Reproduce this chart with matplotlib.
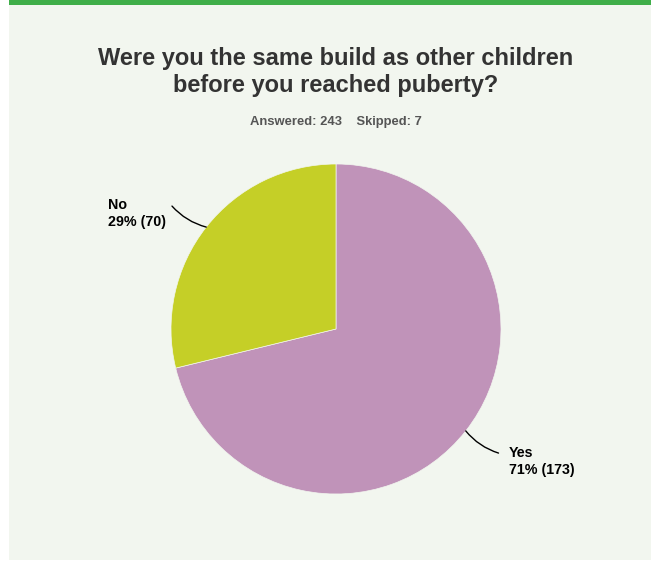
import matplotlib
matplotlib.use("Agg")
import matplotlib.pyplot as plt
import numpy as np

plt.rcParams['font.family'] = ['Liberation Sans', 'DejaVu Sans']

labels = ["Yes", "No"]
counts = [173, 70]
percents = ["71%", "29%"]
colors = ["#C093B9", "#C5CF27"]
title = "Were you the same build as other children\nbefore you reached puberty?"
answered = 243
skipped = 7

W, H = 651, 565
fig = plt.figure(figsize=(W/100, H/100), dpi=100)
fig.patch.set_facecolor("white")

# background panel and green bar
fig.patches.append(plt.Rectangle((9/W, 5/H), 1, (H-5-5)/H, transform=fig.transFigure,
                                 facecolor="#F2F6EF", edgecolor="none", zorder=-2))
fig.patches.append(plt.Rectangle((9/W, (H-5)/H), 1, 5/H, transform=fig.transFigure,
                                 facecolor="#3FAE49", edgecolor="none", zorder=-2))

fig.text(336/W, 1-72/H, title, ha="center", va="center", fontsize=17,
         fontweight="bold", color="#333333", linespacing=1.27)
fig.text(336/W, 1-121.5/H, f"Answered: {answered}    Skipped: {skipped}", ha="center",
         va="center", fontsize=9.4, fontweight="bold", color="#555555")

cx, cy, r = 336, 329, 165
ax = fig.add_axes([(cx-r)/W, (H-cy-r)/H, 2*r/W, 2*r/H])
ax.set_zorder(3)
ax.set_facecolor("none")
wedges, _ = ax.pie(counts, colors=colors, startangle=90, counterclock=False,
                   radius=1, wedgeprops=dict(linewidth=0.5, edgecolor="#F2F6EF"))
ax.set_xlim(-1.0, 1.0)
ax.set_ylim(-1.0, 1.0)
ax.set_aspect("equal")
ax.axis("off")

text_pos = {"Yes": (1.048, -0.803), "No": (-1.382, 0.70)}
line_end = {"Yes": (0.985, -0.752), "No": (-0.994, 0.745)}
rads = {"Yes": -0.15, "No": 0.15}
for w, lab, c, p in zip(wedges, labels, counts, percents):
    mid = np.deg2rad((w.theta1 + w.theta2) / 2)
    px, py = np.cos(mid), np.sin(mid)
    ex, ey = line_end[lab]
    ax.annotate("", xy=(px, py), xytext=(ex, ey),
                arrowprops=dict(arrowstyle="-", color="black", lw=1,
                                connectionstyle=f"arc3,rad={rads[lab]}",
                                shrinkA=0, shrinkB=0), annotation_clip=False)
    tx, ty = text_pos[lab]
    ax.text(tx, ty, f"{lab}\n{p} ({c})", ha="left", va="center", fontsize=10.3,
            fontweight="bold", color="black", linespacing=1.25, clip_on=False)

fig.savefig("out.png", dpi=100, facecolor=fig.get_facecolor())
